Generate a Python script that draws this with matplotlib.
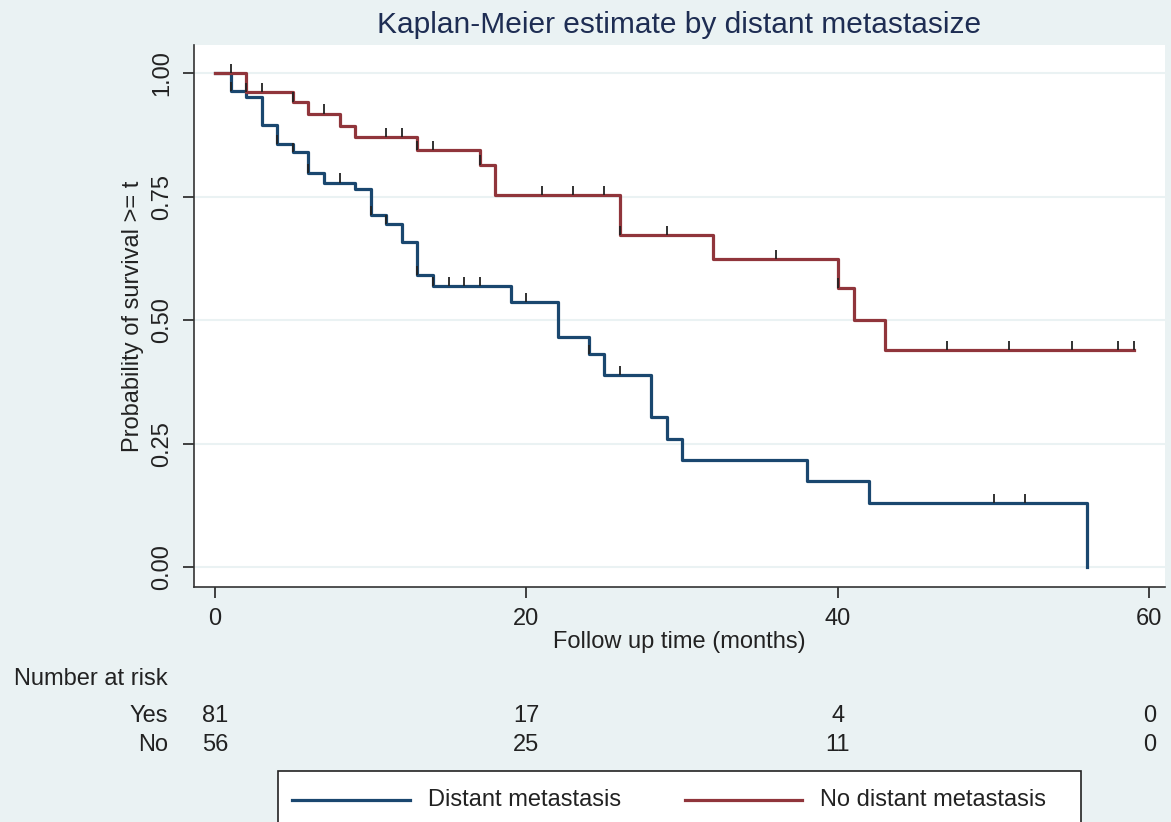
import numpy as np
import matplotlib
matplotlib.use("Agg")
import matplotlib.pyplot as plt
from matplotlib.lines import Line2D
from matplotlib.patches import Rectangle
from matplotlib.transforms import blended_transform_factory

plt.rcParams['font.family'] = ['Liberation Sans', 'DejaVu Sans']

# step data
yes_t = [0, 1, 2, 3, 4, 5, 6, 7, 9, 10, 11, 12, 13, 14, 19, 22, 24, 25, 28, 29, 30, 38, 42, 56]
yes_s = [1.0, 0.964, 0.951, 0.896, 0.856, 0.840, 0.797, 0.778, 0.765, 0.713, 0.694, 0.659,
         0.591, 0.569, 0.537, 0.466, 0.431, 0.389, 0.304, 0.259, 0.217, 0.174, 0.130, 0.0]
yes_end = 56
yes_cens = [1, 4, 5, 6, 8, 10, 11, 13, 14, 15, 16, 17, 20, 24, 26, 50, 52]

no_t = [0, 2, 5, 6, 8, 9, 13, 17, 18, 26, 32, 40, 41, 43]
no_s = [1.0, 0.962, 0.942, 0.918, 0.893, 0.870, 0.844, 0.815, 0.753, 0.672, 0.623, 0.566, 0.501, 0.439]
no_end = 59
no_cens = [1, 2, 3, 5, 7, 11, 12, 13, 14, 17, 21, 23, 25, 26, 29, 36, 40, 47, 51, 55, 58, 59]

risk_times = [0, 20, 40, 60]
risk_yes = [81, 17, 4, 0]
risk_no = [56, 25, 11, 0]

bg = '#eaf2f3'
navy = '#1a476f'
maroon = '#90353b'
fs = 17

W, H = 1171, 822
fig = plt.figure(figsize=(W / 100, H / 100), dpi=100, facecolor=bg)
ax = fig.add_axes([194 / W, 1 - 587 / H, (1165 - 194) / W, (587 - 45) / H])
ax.set_facecolor('white')


def km_curve(t, s, end, cens, color):
    xs = list(t) + [end]
    ys = list(s) + [s[-1]]
    ax.step(xs, ys, where='post', color=color, lw=2.3, zorder=3)
    idx = np.searchsorted(t, cens, side='right') - 1
    lvl = np.array(s)[idx]
    ax.vlines(cens, lvl, lvl + 0.019, color='#222222', lw=1.3, zorder=4)


km_curve(yes_t, yes_s, yes_end, yes_cens, navy)
km_curve(no_t, no_s, no_end, no_cens, maroon)

ax.set_xlim(-1.35, 61.0)
ax.set_ylim(-0.040, 1.057)
ax.set_xticks([0, 20, 40, 60])
ax.set_yticks([0, 0.25, 0.5, 0.75, 1.0])
ax.set_yticklabels(['0.00', '0.25', '0.50', '0.75', '1.00'], rotation=90, va='center')
ax.tick_params(axis='both', labelsize=fs, colors='#222222', length=8, width=1.2, pad=7)
ax.grid(axis='y', color=bg, lw=1.5)
ax.set_axisbelow(True)
for side in ['top', 'right']:
    ax.spines[side].set_visible(False)
for side in ['left', 'bottom']:
    ax.spines[side].set_color('#333333')
    ax.spines[side].set_linewidth(1.2)

ax.set_ylabel('Probability of survival >= t', fontsize=fs, color='#222222', labelpad=5)
ax.set_xlabel('Follow up time (months)', fontsize=fs, color='#222222', labelpad=1)
ax.set_title('Kaplan-Meier estimate by distant metastasize', fontsize=21.5, color='#1e2d53', pad=9)

# number at risk table
tr = blended_transform_factory(ax.transData, fig.transFigure)
fig.text(14 / W, 1 - 679 / H, 'Number at risk', fontsize=fs, va='center', color='#222222')
fig.text(168 / W, 1 - 716 / H, 'Yes', fontsize=fs, va='center', ha='right', color='#222222')
fig.text(168 / W, 1 - 745 / H, 'No', fontsize=fs, va='center', ha='right', color='#222222')
for xt, a, b in zip(risk_times, risk_yes, risk_no):
    fig.text(xt, 1 - 716 / H, str(a), transform=tr, fontsize=fs, va='center', ha='center', color='#222222')
    fig.text(xt, 1 - 745 / H, str(b), transform=tr, fontsize=fs, va='center', ha='center', color='#222222')

# legend box (runs off the bottom edge like the original)
fig.add_artist(Rectangle((278 / W, -0.05), (1081 - 278) / W, 0.05 + (822 - 771) / H,
                         transform=fig.transFigure, facecolor='white', edgecolor='#222222', lw=1.2))
ly = 1 - 800 / H
fig.add_artist(Line2D([292 / W, 410 / W], [ly, ly], color=navy, lw=2.3, transform=fig.transFigure))
fig.text(428 / W, ly, 'Distant metastasis', fontsize=fs, va='center', color='#222222')
fig.add_artist(Line2D([685 / W, 802 / W], [ly, ly], color=maroon, lw=2.3, transform=fig.transFigure))
fig.text(820 / W, ly, 'No distant metastasis', fontsize=fs, va='center', color='#222222')

fig.savefig('out.png', dpi=100, facecolor=bg)
